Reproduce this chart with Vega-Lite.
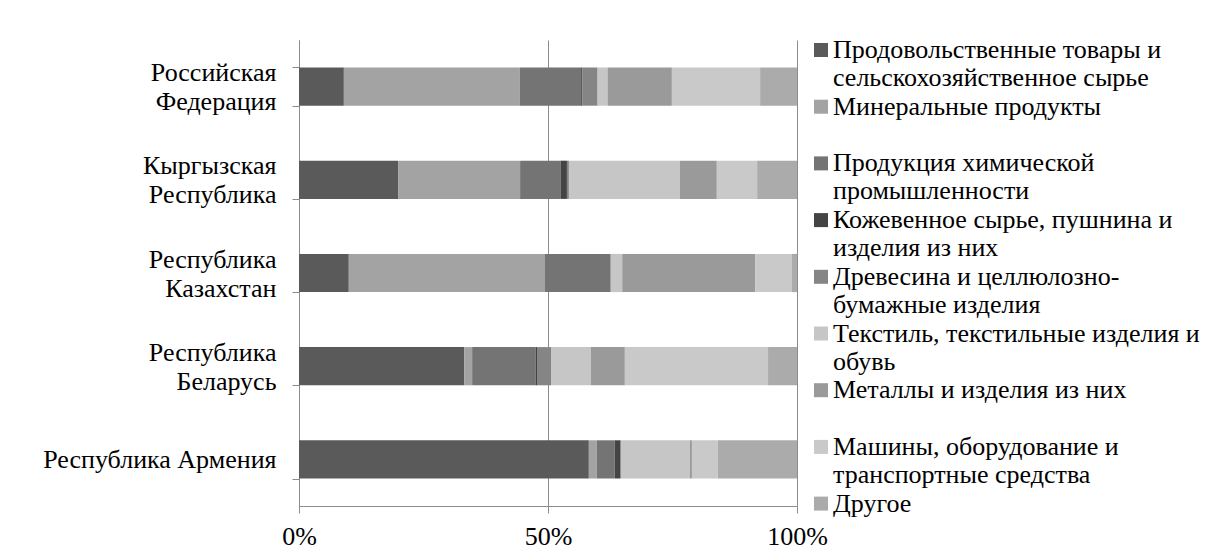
{
  "$schema": "https://vega.github.io/schema/vega-lite/v6.json",
  "width": 498,
  "height": 466,
  "autosize": {"type": "none"},
  "padding": {"left": 299, "top": 40, "right": 433, "bottom": 47},
  "background": "white",
  "config": {"font": "Liberation Serif", "view": {"stroke": null}},
  "data": {"values": [
    {"country": "Российская Федерация", "category": "Продовольственные товары и сельскохозяйственное сырье", "value": 9.0},
    {"country": "Российская Федерация", "category": "Минеральные продукты", "value": 35.3},
    {"country": "Российская Федерация", "category": "Продукция химической промышленности", "value": 12.3},
    {"country": "Российская Федерация", "category": "Кожевенное сырье, пушнина и изделия из них", "value": 0.2},
    {"country": "Российская Федерация", "category": "Древесина и целлюлозно-бумажные изделия", "value": 3.1},
    {"country": "Российская Федерация", "category": "Текстиль, текстильные изделия и обувь", "value": 2.0},
    {"country": "Российская Федерация", "category": "Металлы и изделия из них", "value": 12.9},
    {"country": "Российская Федерация", "category": "Машины, оборудование и транспортные средства", "value": 17.7},
    {"country": "Российская Федерация", "category": "Другое", "value": 7.4},
    {"country": "Кыргызская Республика", "category": "Продовольственные товары и сельскохозяйственное сырье", "value": 19.9},
    {"country": "Кыргызская Республика", "category": "Минеральные продукты", "value": 24.5},
    {"country": "Кыргызская Республика", "category": "Продукция химической промышленности", "value": 8.1},
    {"country": "Кыргызская Республика", "category": "Кожевенное сырье, пушнина и изделия из них", "value": 1.3},
    {"country": "Кыргызская Республика", "category": "Древесина и целлюлозно-бумажные изделия", "value": 0.4},
    {"country": "Кыргызская Республика", "category": "Текстиль, текстильные изделия и обувь", "value": 22.3},
    {"country": "Кыргызская Республика", "category": "Металлы и изделия из них", "value": 7.4},
    {"country": "Кыргызская Республика", "category": "Машины, оборудование и транспортные средства", "value": 8.1},
    {"country": "Кыргызская Республика", "category": "Другое", "value": 8.0},
    {"country": "Республика Казахстан", "category": "Продовольственные товары и сельскохозяйственное сырье", "value": 10.0},
    {"country": "Республика Казахстан", "category": "Минеральные продукты", "value": 39.4},
    {"country": "Республика Казахстан", "category": "Продукция химической промышленности", "value": 13.2},
    {"country": "Республика Казахстан", "category": "Кожевенное сырье, пушнина и изделия из них", "value": 0.0},
    {"country": "Республика Казахстан", "category": "Древесина и целлюлозно-бумажные изделия", "value": 0.0},
    {"country": "Республика Казахстан", "category": "Текстиль, текстильные изделия и обувь", "value": 2.3},
    {"country": "Республика Казахстан", "category": "Металлы и изделия из них", "value": 26.7},
    {"country": "Республика Казахстан", "category": "Машины, оборудование и транспортные средства", "value": 7.4},
    {"country": "Республика Казахстан", "category": "Другое", "value": 1.0},
    {"country": "Республика Беларусь", "category": "Продовольственные товары и сельскохозяйственное сырье", "value": 33.1},
    {"country": "Республика Беларусь", "category": "Минеральные продукты", "value": 1.6},
    {"country": "Республика Беларусь", "category": "Продукция химической промышленности", "value": 12.7},
    {"country": "Республика Беларусь", "category": "Кожевенное сырье, пушнина и изделия из них", "value": 0.3},
    {"country": "Республика Беларусь", "category": "Древесина и целлюлозно-бумажные изделия", "value": 2.8},
    {"country": "Республика Беларусь", "category": "Текстиль, текстильные изделия и обувь", "value": 8.0},
    {"country": "Республика Беларусь", "category": "Металлы и изделия из них", "value": 6.8},
    {"country": "Республика Беларусь", "category": "Машины, оборудование и транспортные средства", "value": 28.7},
    {"country": "Республика Беларусь", "category": "Другое", "value": 5.8},
    {"country": "Республика Армения", "category": "Продовольственные товары и сельскохозяйственное сырье", "value": 58.2},
    {"country": "Республика Армения", "category": "Минеральные продукты", "value": 1.6},
    {"country": "Республика Армения", "category": "Продукция химической промышленности", "value": 3.6},
    {"country": "Республика Армения", "category": "Кожевенное сырье, пушнина и изделия из них", "value": 1.2},
    {"country": "Республика Армения", "category": "Древесина и целлюлозно-бумажные изделия", "value": 0.0},
    {"country": "Республика Армения", "category": "Текстиль, текстильные изделия и обувь", "value": 13.9},
    {"country": "Республика Армения", "category": "Металлы и изделия из них", "value": 0.4},
    {"country": "Республика Армения", "category": "Машины, оборудование и транспортные средства", "value": 5.2},
    {"country": "Республика Армения", "category": "Другое", "value": 15.9}
  ]},
  "transform": [
    {"calculate": "indexof(['Продовольственные товары и сельскохозяйственное сырье', 'Минеральные продукты', 'Продукция химической промышленности', 'Кожевенное сырье, пушнина и изделия из них', 'Древесина и целлюлозно-бумажные изделия', 'Текстиль, текстильные изделия и обувь', 'Металлы и изделия из них', 'Машины, оборудование и транспортные средства', 'Другое'], datum.category)", "as": "stackOrder"}
  ],
  "mark": {"type": "bar"},
  "encoding": {
    "y": {
      "field": "country", "type": "nominal",
      "sort": ["Российская Федерация", "Кыргызская Республика", "Республика Казахстан", "Республика Беларусь", "Республика Армения"],
      "scale": {"paddingInner": 0.59, "paddingOuter": 0.295},
      "axis": {
        "title": null, "tickBand": "extent",
        "labelExpr": "datum.label == 'Республика Армения' ? datum.label : split(datum.label, ' ')",
        "labelFont": "Liberation Serif", "labelFontSize": 26, "labelColor": "black", "labelLineHeight": 29,
        "labelBaseline": "middle",
        "labelOffset": {"condition": {"test": "datum.label == 'Республика Армения'", "value": 0}, "value": -14},
        "labelLimit": 300, "tickSize": 7, "labelPadding": 16,
        "domainColor": "#8c8c8c", "tickColor": "#8c8c8c"
      }
    },
    "x": {
      "field": "value", "type": "quantitative", "stack": "normalize",
      "scale": {"domain": [0, 1]},
      "axis": {
        "title": null, "format": "%", "values": [0, 0.5, 1], "grid": true,
        "gridColor": "#8c8c8c", "domainColor": "#8c8c8c", "tickColor": "#8c8c8c", "tickSize": 7,
        "labelFont": "Liberation Serif", "labelFontSize": 26, "labelColor": "black", "labelPadding": 10,
        "labelFlush": false
      }
    },
    "order": {"field": "stackOrder", "type": "quantitative"},
    "color": {
      "field": "category", "type": "nominal",
      "scale": {
        "domain": ["Продовольственные товары и сельскохозяйственное сырье", "Минеральные продукты", "Продукция химической промышленности", "Кожевенное сырье, пушнина и изделия из них", "Древесина и целлюлозно-бумажные изделия", "Текстиль, текстильные изделия и обувь", "Металлы и изделия из них", "Машины, оборудование и транспортные средства", "Другое"],
        "range": ["#5a5a5a", "#a3a3a3", "#747474", "#444444", "#858585", "#c6c6c6", "#9a9a9a", "#c9c9c9", "#ababab"]
      },
      "legend": {
        "orient": "none", "legendX": 509, "legendY": -3, "title": null, "padding": 0,
        "symbolType": "square", "symbolSize": 196, "symbolStrokeWidth": 0, "symbolOpacity": 1,
        "labelFont": "Liberation Serif", "labelFontSize": 26, "labelColor": "black", "labelLineHeight": 28.4,
        "labelLimit": 420, "labelOffset": -1, "rowPadding": 2.7, "labelBaseline": "middle",
        "labelExpr": "datum.label == 'Продовольственные товары и сельскохозяйственное сырье' ? ['Продовольственные товары и', 'сельскохозяйственное сырье'] : datum.label == 'Минеральные продукты' ? ['Минеральные продукты', ' '] : datum.label == 'Продукция химической промышленности' ? ['Продукция химической', 'промышленности'] : datum.label == 'Кожевенное сырье, пушнина и изделия из них' ? ['Кожевенное сырье, пушнина и', 'изделия из них'] : datum.label == 'Древесина и целлюлозно-бумажные изделия' ? ['Древесина и целлюлозно-', 'бумажные изделия'] : datum.label == 'Текстиль, текстильные изделия и обувь' ? ['Текстиль, текстильные изделия и', 'обувь'] : datum.label == 'Металлы и изделия из них' ? ['Металлы и изделия из них', ' '] : datum.label == 'Машины, оборудование и транспортные средства' ? ['Машины, оборудование и', 'транспортные средства'] : datum.label"
      }
    }
  }
}
